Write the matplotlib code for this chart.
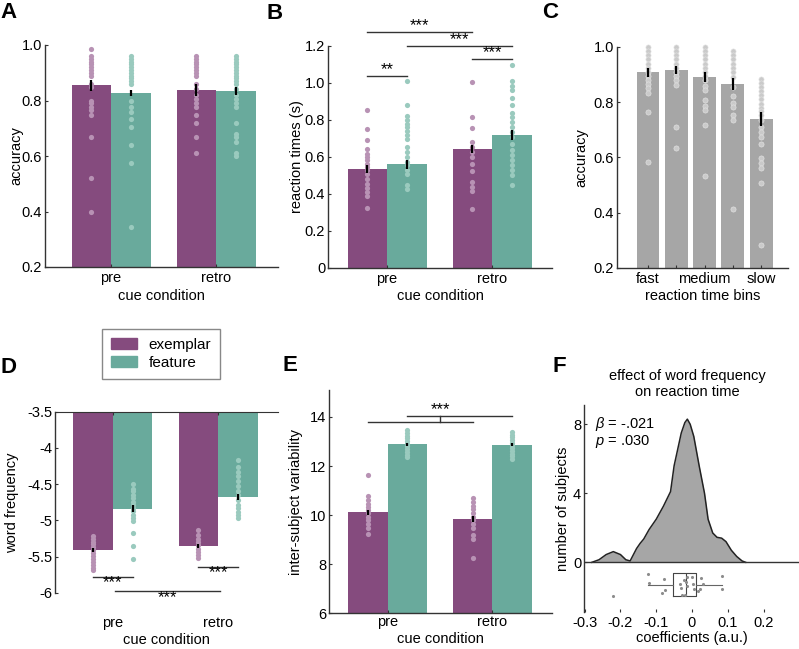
import numpy as np
import matplotlib
matplotlib.use("Agg")
import matplotlib.pyplot as plt
from matplotlib.patches import Patch

plt.rcParams['font.family'] = ['Liberation Sans', 'DejaVu Sans']
plt.rcParams['font.size'] = 10.5
plt.rcParams['mathtext.fontset'] = 'custom'
plt.rcParams['mathtext.it'] = 'Liberation Sans:italic'
plt.rcParams['mathtext.rm'] = 'Liberation Sans'

PURPLE = '#854b7e'
TEAL = '#69aa9c'
PURPLE_DOT = '#b892b4'
TEAL_DOT = '#9acabe'
GRAY = '#a6a6a6'
GRAY_DOT = '#cacaca'
AXC = '#333333'

conditions = ['pre', 'retro']

# A: accuracy
acc_ex_mean = [0.855, 0.838]
acc_fe_mean = [0.828, 0.834]
acc_ex_sem = [0.020, 0.023]
acc_fe_sem = [0.010, 0.015]
acc_ex_subj = [
    [0.987, 0.96, 0.95, 0.94, 0.93, 0.92, 0.91, 0.90, 0.89, 0.86, 0.85, 0.80, 0.79, 0.776, 0.764, 0.747, 0.667, 0.519, 0.399],
    [0.96, 0.95, 0.94, 0.93, 0.92, 0.91, 0.90, 0.89, 0.86, 0.84, 0.82, 0.804, 0.79, 0.776, 0.747, 0.72, 0.667, 0.611],
]
acc_fe_subj = [
    [0.96, 0.95, 0.94, 0.93, 0.92, 0.91, 0.90, 0.89, 0.88, 0.87, 0.86, 0.80, 0.776, 0.76, 0.734, 0.706, 0.64, 0.574, 0.344],
    [0.96, 0.95, 0.94, 0.93, 0.92, 0.91, 0.90, 0.89, 0.88, 0.87, 0.86, 0.84, 0.82, 0.804, 0.79, 0.776, 0.72, 0.68, 0.667, 0.652, 0.611, 0.60],
]

# B: reaction times
rt_ex_mean = [0.535, 0.645]
rt_fe_mean = [0.560, 0.717]
rt_ex_sem = [0.020, 0.022]
rt_fe_sem = [0.025, 0.027]
rt_ex_subj = [
    [0.854, 0.753, 0.69, 0.643, 0.618, 0.60, 0.582, 0.564, 0.546, 0.528, 0.51, 0.479, 0.456, 0.434, 0.411, 0.391, 0.326],
    [1.004, 0.816, 0.757, 0.681, 0.654, 0.627, 0.60, 0.564, 0.522, 0.465, 0.438, 0.416, 0.317],
]
rt_fe_subj = [
    [1.009, 0.879, 0.822, 0.798, 0.78, 0.762, 0.739, 0.717, 0.699, 0.654, 0.627, 0.60, 0.573, 0.555, 0.528, 0.506, 0.447, 0.429],
    [1.099, 1.009, 0.982, 0.964, 0.919, 0.879, 0.84, 0.816, 0.789, 0.762, 0.735, 0.708, 0.672, 0.636, 0.609, 0.582, 0.555, 0.528, 0.501, 0.45],
]

# C: accuracy by reaction time bin
rt_bins = ['fast', '', 'medium', '', 'slow']
bin_mean = [0.908, 0.917, 0.893, 0.865, 0.739]
bin_sem = [0.015, 0.013, 0.018, 0.021, 0.024]
bin_subj = [
    [1.0, 0.985, 0.97, 0.955, 0.94, 0.925, 0.91, 0.895, 0.88, 0.865, 0.85, 0.833, 0.764, 0.582],
    [1.0, 0.985, 0.97, 0.955, 0.94, 0.925, 0.91, 0.895, 0.88, 0.863, 0.709, 0.633],
    [1.0, 0.985, 0.97, 0.955, 0.94, 0.925, 0.91, 0.895, 0.88, 0.86, 0.845, 0.809, 0.785, 0.772, 0.718, 0.534],
    [0.984, 0.97, 0.955, 0.94, 0.925, 0.91, 0.893, 0.857, 0.821, 0.797, 0.782, 0.754, 0.736, 0.415],
    [0.884, 0.87, 0.855, 0.84, 0.825, 0.81, 0.795, 0.78, 0.767, 0.754, 0.736, 0.712, 0.694, 0.676, 0.649, 0.597, 0.579, 0.561, 0.508, 0.282],
]

# D: word frequency
wf_ex_mean = [-5.404, -5.353]
wf_fe_mean = [-4.839, -4.679]
wf_ex_sem = [0.03, 0.03]
wf_fe_sem = [0.05, 0.04]
wf_ex_subj = [
    [-5.21, -5.25, -5.29, -5.33, -5.37, -5.41, -5.45, -5.49, -5.53, -5.57, -5.61, -5.65, -5.68],
    [-5.13, -5.20, -5.25, -5.29, -5.34, -5.39, -5.43, -5.48, -5.52],
]
wf_fe_subj = [
    [-4.50, -4.56, -4.60, -4.65, -4.69, -4.74, -4.78, -4.83, -4.87, -4.92, -4.96, -5.01, -5.17, -5.35, -5.53],
    [-4.17, -4.26, -4.33, -4.39, -4.46, -4.53, -4.59, -4.65, -4.72, -4.78, -4.83, -4.88, -4.92, -4.97],
]

# E: inter-subject variability
var_ex_mean = [10.11, 9.84]
var_fe_mean = [12.89, 12.87]
var_ex_sem = [0.12, 0.13]
var_fe_sem = [0.06, 0.06]
var_ex_subj = [
    [11.65, 10.79, 10.61, 10.47, 10.34, 10.2, 10.07, 9.93, 9.8, 9.63, 9.46, 9.24],
    [10.68, 10.54, 10.38, 10.24, 10.07, 9.93, 9.8, 9.63, 9.46, 9.21, 9.02, 8.24],
]
var_fe_subj = [
    [13.46, 13.35, 13.24, 13.13, 13.02, 12.91, 12.8, 12.69, 12.58, 12.47, 12.37],
    [13.39, 13.28, 13.17, 13.06, 12.95, 12.84, 12.73, 12.62, 12.51, 12.41, 12.3],
]

# F: coefficients and density
coef = [-0.221, -0.122, -0.120, -0.085, -0.077, -0.075, -0.034, -0.031, -0.028, -0.021, -0.020,
        -0.017, -0.015, -0.013, -0.001, 0.003, 0.006, 0.018, 0.021, 0.024, 0.032, 0.083, 0.085]
coef_jitter = [-1.95, -0.70, -1.18, -1.80, -0.97, -1.61, -1.28, -1.51, -1.90, -1.00, -1.90,
               -1.14, -0.87, -1.39, -0.87, -1.28, -1.55, -1.68, -1.55, -0.93, -1.28, -0.78, -1.55]
kde_x = [-0.28, -0.26, -0.24, -0.22, -0.20, -0.185, -0.173, -0.165, -0.155, -0.145, -0.135, -0.12,
         -0.10, -0.08, -0.06, -0.05, -0.03, -0.02, -0.013, -0.005, 0.005, 0.02, 0.035, 0.045, 0.058,
         0.07, 0.083, 0.095, 0.11, 0.125, 0.14, 0.15]
kde_y = [0.0, 0.15, 0.45, 0.62, 0.45, 0.15, 0.08, 0.4, 0.8, 1.1, 1.35, 1.9,
         2.5, 3.25, 4.1, 5.6, 7.5, 8.1, 8.3, 8.0, 7.3, 5.6, 4.0, 2.5, 1.7,
         1.45, 1.4, 1.2, 0.7, 0.34, 0.08, 0.0]

W, H = 799, 649
fig = plt.figure(figsize=(W / 100, H / 100), dpi=100)


def add_ax(l, t, r, b):
    return fig.add_axes([l / W, 1 - b / H, (r - l) / W, (b - t) / H])


def style(ax, xpad=3):
    for s in ['top', 'right']:
        ax.spines[s].set_visible(False)
    for s in ['left', 'bottom']:
        ax.spines[s].set_color(AXC)
        ax.spines[s].set_linewidth(1.0)
    ax.tick_params(direction='in', length=2.5, width=0.8, color=AXC, labelsize=10.5)
    ax.tick_params(axis='x', pad=xpad)
    ax.tick_params(axis='y', pad=2)


BW = 0.376


def grouped(ax, ex_mean, fe_mean, ex_sem, fe_sem, ex_subj, fe_subj, base=0.0):
    x = np.array([1.0, 2.0])
    ax.bar(x - BW / 2, np.array(ex_mean) - base, BW, bottom=base, color=PURPLE, zorder=1)
    ax.bar(x + BW / 2, np.array(fe_mean) - base, BW, bottom=base, color=TEAL, zorder=1)
    for i in range(2):
        ax.scatter(np.full(len(ex_subj[i]), x[i] - BW / 2), ex_subj[i], s=14, color=PURPLE_DOT,
                   lw=0, zorder=2, clip_on=False)
        ax.scatter(np.full(len(fe_subj[i]), x[i] + BW / 2), fe_subj[i], s=14, color=TEAL_DOT,
                   lw=0, zorder=2, clip_on=False)
    ax.errorbar(x - BW / 2, ex_mean, yerr=ex_sem, fmt='none', ecolor='black', elinewidth=1.6, capsize=0, zorder=3)
    ax.errorbar(x + BW / 2, fe_mean, yerr=fe_sem, fmt='none', ecolor='black', elinewidth=1.6, capsize=0, zorder=3)
    ax.set_xticks(x)
    ax.set_xticklabels(conditions)


def sig(ax, x0, x1, y, txt, ty):
    ax.plot([x0, x1], [y, y], color=AXC, lw=1.0, clip_on=False)
    ax.text((x0 + x1) / 2, ty, txt, ha='center', va='center', fontsize=12)


def set_labels(ax, xl, yl, xy, yx):
    ax.set_xlabel(xl, va='center')
    ax.xaxis.set_label_coords(0.5, xy)
    ax.set_ylabel(yl, va='center')
    ax.yaxis.set_label_coords(yx, 0.5)


# ---- A ----
axA = add_ax(45, 45, 278, 267)
grouped(axA, acc_ex_mean, acc_fe_mean, acc_ex_sem, acc_fe_sem, acc_ex_subj, acc_fe_subj)
axA.set_xlim(0.371, 2.59)
axA.set_ylim(0.2, 1.0)
axA.set_yticks([0.2, 0.4, 0.6, 0.8, 1.0])
axA.set_yticklabels(['0.2', '0.4', '0.6', '0.8', '1.0'])
style(axA)
set_labels(axA, 'cue condition', 'accuracy', -0.13, -0.125)

# ---- B ----
axB = add_ax(328, 46, 552, 268)
grouped(axB, rt_ex_mean, rt_fe_mean, rt_ex_sem, rt_fe_sem, rt_ex_subj, rt_fe_subj)
axB.set_xlim(0.438, 2.571)
axB.set_ylim(0, 1.2)
axB.set_yticks([0, 0.2, 0.4, 0.6, 0.8, 1.0, 1.2])
axB.set_yticklabels(['0', '0.2', '0.4', '0.6', '0.8', '1.0', '1.2'])
style(axB)
set_labels(axB, 'cue condition', 'reaction times (s)', -0.126, -0.14)
sig(axB, 1 - BW / 2, 2 - BW / 2, 1.276, '***', 1.31)
sig(axB, 1 + BW / 2, 2 + BW / 2, 1.20, '***', 1.234)
sig(axB, 2 - BW / 2, 2 + BW / 2, 1.13, '***', 1.164)
sig(axB, 1 - BW / 2, 1 + BW / 2, 1.04, '**', 1.074)

# ---- C ----
axC = add_ax(617, 47, 788, 268)
xc = np.arange(len(bin_mean))
axC.bar(xc, bin_mean, 0.81, bottom=0, color=GRAY, zorder=1)
for i in range(len(bin_subj)):
    axC.scatter(np.full(len(bin_subj[i]), xc[i]), bin_subj[i], s=14, color=GRAY_DOT,
                edgecolor='#e6e6e6', lw=0.4, zorder=2, clip_on=False)
axC.errorbar(xc, bin_mean, yerr=bin_sem, fmt='none', ecolor='black', elinewidth=1.6, capsize=0, zorder=3)
axC.set_xticks(xc)
axC.set_xticklabels(rt_bins)
axC.set_xlim(-1.095, 4.95)
axC.set_ylim(0.2, 1.0)
axC.set_yticks([0.2, 0.4, 0.6, 0.8, 1.0])
axC.set_yticklabels(['0.2', '0.4', '0.6', '0.8', '1.0'])
style(axC)
set_labels(axC, 'reaction time bins', 'accuracy', -0.127, -0.21)

# ---- D ----
axD = add_ax(55, 411.7, 278, 593)
grouped(axD, wf_ex_mean, wf_fe_mean, wf_ex_sem, wf_fe_sem, wf_ex_subj, wf_fe_subj, base=-3.5)
axD.set_xlim(0.448, 2.571)
axD.set_ylim(-6, -3.5)
axD.set_yticks([-6, -5.5, -5, -4.5, -4, -3.5])
axD.set_yticklabels(['-6', '-5.5', '-5', '-4.5', '-4', '-3.5'])
style(axD)
axD.spines['bottom'].set_visible(False)
axD.spines['top'].set_visible(True)
axD.spines['top'].set_color(AXC)
axD.tick_params(axis='x', bottom=False, top=True, labelbottom=True, labeltop=False, pad=16.5)
set_labels(axD, 'cue condition', 'word frequency', -0.26, -0.193)
sig(axD, 1 - BW / 2, 1 + BW / 2, -5.778, '***', -5.86)
sig(axD, 1.02, 2.02, -5.976, '***', -6.06)
sig(axD, 2 - BW / 2, 2 + BW / 2, -5.64, '***', -5.72)

# legend
fig.legend(handles=[Patch(color=PURPLE, label='exemplar'), Patch(color=TEAL, label='feature')],
           loc='upper left', bbox_to_anchor=(102 / W, 1 - 329 / H), frameon=True, fancybox=False,
           edgecolor='#888888', framealpha=1, borderpad=0.6, handlelength=1.7, handleheight=0.7,
           handletextpad=0.75, labelspacing=0.25, fontsize=11, borderaxespad=0)

# ---- E ----
axE = add_ax(329, 390, 552, 613.3)
grouped(axE, var_ex_mean, var_fe_mean, var_ex_sem, var_fe_sem, var_ex_subj, var_fe_subj)
axE.set_xlim(0.438, 2.571)
axE.set_ylim(6, 15.1)
axE.set_yticks([6, 8, 10, 12, 14])
style(axE, xpad=1.5)
set_labels(axE, 'cue condition', 'inter-subject variability', -0.115, -0.149)
axE.plot([1 - BW / 2, 2 - BW / 2], [13.80, 13.80], color=AXC, lw=1.0)
axE.plot([1 + BW / 2, 2 + BW / 2], [14.03, 14.03], color=AXC, lw=1.0)
axE.plot([1.5, 1.5], [13.80, 14.03], color=AXC, lw=1.0)
axE.text(1.5, 14.3, '***', ha='center', va='center', fontsize=12)

# ---- F ----
axF = add_ax(584, 405, 800, 612)
axF.fill_between(kde_x, kde_y, 0, color=GRAY, lw=0)
axF.plot(kde_x, kde_y, color='#222222', lw=1.1)
axF.axhline(0, color=AXC, lw=1.0)
axF.boxplot(coef, orientation='horizontal', positions=[-1.3], widths=1.35, showfliers=False,
            showcaps=False, manage_ticks=False,
            boxprops=dict(color='#444444', lw=0.8), whiskerprops=dict(color='#666666', lw=0.8),
            medianprops=dict(color='#444444', lw=0.8))
axF.scatter(coef, coef_jitter, s=5, color='#8c8c8c', lw=0, zorder=3)
axF.set_xlim(-0.302, 0.302)
axF.set_ylim(-2.88, 9.12)
axF.set_yticks([0, 4, 8])
axF.set_xticks([-0.3, -0.2, -0.1, 0, 0.1, 0.2])
axF.set_xticklabels(['-0.3', '-0.2', '-0.1', '0', '0.1', '0.2'])
style(axF)
axF.spines['bottom'].set_visible(False)
set_labels(axF, 'coefficients (a.u.)', 'number of subjects', -0.126, -0.097)
axF.text(0.05, 0.908, r'$\beta$ = -.021', transform=axF.transAxes, ha='left', va='center', fontsize=10.5)
axF.text(0.05, 0.826, r'$p$ = .030', transform=axF.transAxes, ha='left', va='center', fontsize=10.5)
fig.text(687 / W, 1 - 384 / H, 'effect of word frequency\non reaction time', ha='center', va='center',
         fontsize=10.5, linespacing=1.15)

# panel letters
for lab, px, py in [('A', 0, 12.5), ('B', 267, 13.5), ('C', 542, 12.5),
                    ('D', 0, 367.5), ('E', 283, 365.5), ('F', 552, 366.5)]:
    fig.text(px / W, 1 - py / H, lab, fontsize=16, fontweight='bold', ha='left', va='center')

fig.savefig('out.png', dpi=100)
